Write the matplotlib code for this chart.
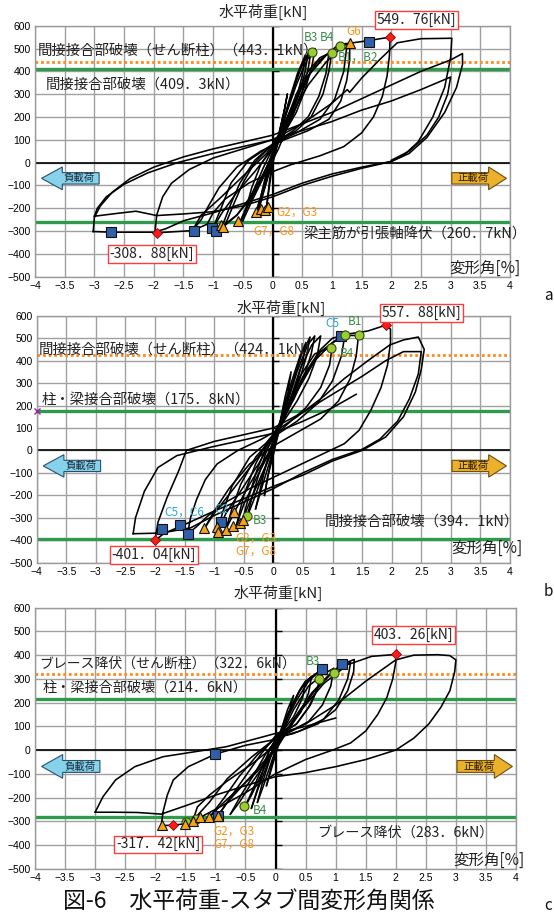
import matplotlib
matplotlib.use("Agg")
import matplotlib.pyplot as plt
from matplotlib.patches import FancyArrow

plt.rcParams['font.family'] = ['Noto Sans CJK JP', 'DejaVu Sans']

# ---------------- data (drift angle [%], horizontal load [kN]) ----------------
# panel a : hysteresis path, split into cycles
a_loops = [
    [(0, 0), (0.1, 110), (0.2, 230), (0.25, 300), (0.2, 230), (0.1, 120), (0.0, 20), (-0.05, -80), (-0.1, -195)],
    [(-0.1, -195), (-0.05, -100), (0.0, -10), (0.1, 100), (0.2, 200), (0.3, 290), (0.42, 390), (0.55, 470),
     (0.5, 380), (0.4, 280), (0.25, 170), (0.1, 90), (0.0, 30), (-0.1, -60), (-0.2, -150), (-0.3, -235)],
    [(-0.3, -235), (-0.2, -170), (-0.1, -80), (0.0, 20), (0.15, 150), (0.3, 280), (0.45, 400), (0.6, 480),
     (0.55, 400), (0.45, 300), (0.3, 200), (0.15, 120), (0.0, 50), (-0.1, -40), (-0.18, -130), (-0.25, -225)],
    [(-0.25, -225), (-0.15, -130), (-0.05, -40), (0.05, 50), (0.2, 190), (0.35, 320), (0.5, 430), (0.65, 490),
     (0.6, 410), (0.5, 310), (0.35, 210), (0.15, 120), (0.0, 60), (-0.15, -20), (-0.3, -110), (-0.45, -200), (-0.55, -262)],
    [(-0.55, -262), (-0.45, -210), (-0.3, -130), (-0.15, -50), (0.0, 40), (0.2, 190), (0.4, 340), (0.58, 450), (0.72, 500),
     (0.66, 420), (0.55, 320), (0.4, 220), (0.2, 130), (0.0, 70), (-0.2, -10), (-0.35, -110), (-0.5, -255)],
    [(-0.5, -255), (-0.35, -170), (-0.2, -90), (0.0, 20), (0.2, 160), (0.4, 300), (0.6, 400), (0.8, 460), (1.0, 485),
     (0.95, 400), (0.85, 300), (0.65, 200), (0.4, 140), (0.0, 80), (-0.3, 10), (-0.55, -90), (-0.7, -180), (-0.85, -280)],
    [(-0.85, -280), (-0.6, -230), (-0.4, -160), (-0.2, -70), (0.0, 30), (0.25, 190), (0.5, 340), (0.75, 440), (0.95, 480),
     (0.9, 390), (0.78, 290), (0.6, 200), (0.35, 140), (0.0, 80), (-0.3, 0), (-0.5, -90), (-0.65, -180), (-0.8, -275)],
    [(-0.8, -275), (-0.6, -230), (-0.35, -150), (-0.1, -40), (0.1, 60), (0.35, 220), (0.65, 400), (0.9, 470), (1.12, 519), (1.3, 523),
     (1.3, 450), (1.25, 360), (1.15, 270), (0.95, 190), (0.6, 140), (0.2, 100), (-0.2, 50), (-0.6, -20), (-0.9, -110),
     (-1.1, -200), (-1.2, -250), (-1.35, -298)],
    [(-1.35, -298), (-1.2, -230), (-0.9, -160), (-0.5, -60), (-0.1, 40), (0.3, 200), (0.6, 340), (0.9, 440), (1.1, 490), (1.25, 505),
     (1.2, 400), (1.05, 280), (0.8, 190), (0.4, 130), (0.0, 80), (-0.4, 10), (-0.7, -90), (-0.85, -190), (-1.0, -285)],
    [(-1.0, -285), (-0.85, -220), (-0.6, -130), (-0.3, -40), (0.0, 60), (0.3, 230), (0.6, 380), (0.9, 470), (1.15, 510),
     (1.35, 525), (1.6, 534), (1.98, 550), (1.97, 470), (1.93, 380), (1.85, 290), (1.7, 200), (1.5, 130), (1.2, 70),
     (0.8, 30), (0.3, -10), (0.0, -40), (-0.4, -90), (-0.8, -160), (-1.0, -220), (-1.1, -270), (-1.35, -298), (-1.98, -308)],
    [(-1.98, -308), (-1.95, -230), (-1.85, -150), (-1.7, -90), (-1.4, -30), (-1.0, 20), (-0.5, 60), (0.0, 100), (0.5, 170),
     (1.0, 260), (1.26, 320), (1.3, 308), (1.5, 370), (1.8, 450), (2.1, 525), (2.5, 543), (3.02, 545),
     (3.0, 460), (2.9, 330), (2.7, 200), (2.45, 90), (2.2, 30), (2.0, 5), (1.5, -20), (1.0, -50), (0.5, -90), (0.0, -140),
     (-0.5, -180), (-1.0, -220), (-1.5, -255), (-1.8, -290), (-2.0, -305), (-2.72, -305), (-3.02, -302)],
    [(-3.02, -302), (-3.0, -240), (-2.9, -190), (-2.7, -130), (-2.4, -70), (-2.0, -20), (-1.5, 25), (-1.0, 60), (-0.5, 90),
     (0.0, 120), (0.5, 170), (1.0, 220), (1.5, 280), (2.0, 340), (2.5, 400), (3.0, 450), (3.2, 478),
     (3.2, 430), (3.1, 330), (2.9, 220), (2.6, 110), (2.3, 40), (2.0, 5), (1.5, -25), (1.0, -60), (0.5, -100), (0.0, -150),
     (-0.5, -190), (-1.0, -215), (-1.5, -225), (-1.95, -232), (-2.3, -213), (-2.6, -222), (-3.0, -235)],
    [(-3.0, -235), (-2.95, -200), (-2.8, -150), (-2.5, -95), (-2.1, -45), (-1.6, 0), (-1.0, 40), (-0.5, 70), (0.0, 100),
     (0.5, 140), (1.0, 180), (1.5, 230), (2.0, 270), (2.5, 320), (3.0, 375),
     (2.95, 300), (2.8, 200), (2.6, 120), (2.3, 50), (2.0, 10)],
]

# panel b
b_loops = [
    [(0, 0), (0.1, 110), (0.2, 240), (0.3, 350), (0.25, 260), (0.12, 130), (0.0, 10), (-0.08, -100), (-0.15, -200)],
    [(-0.15, -200), (-0.1, -120), (0.0, -20), (0.15, 150), (0.3, 300), (0.45, 420), (0.55, 480), (0.5, 400), (0.38, 290),
     (0.2, 170), (0.0, 50), (-0.12, -60), (-0.22, -170), (-0.3, -260)],
    [(-0.3, -260), (-0.2, -170), (-0.05, -40), (0.1, 100), (0.3, 280), (0.48, 430), (0.62, 505), (0.56, 420), (0.45, 320),
     (0.28, 210), (0.08, 110), (-0.1, 10), (-0.25, -110), (-0.36, -210), (-0.45, -300)],
    [(-0.45, -300), (-0.33, -220), (-0.18, -110), (0.0, 20), (0.2, 180), (0.4, 350), (0.58, 470), (0.7, 510), (0.64, 430),
     (0.52, 330), (0.35, 230), (0.12, 120), (-0.1, 30), (-0.28, -90), (-0.42, -210), (-0.52, -310)],
    [(-0.52, -310), (-0.4, -230), (-0.2, -110), (0.0, 10), (0.25, 200), (0.45, 360), (0.65, 470), (0.8, 510), (0.74, 420),
     (0.6, 320), (0.4, 220), (0.15, 120), (-0.1, 40), (-0.3, -60), (-0.5, -200), (-0.62, -330)],
    [(-0.62, -330), (-0.5, -240), (-0.3, -130), (-0.05, 0), (0.2, 170), (0.45, 330), (0.7, 430), (0.97, 458), (1.0, 470),
     (0.95, 380), (0.8, 280), (0.55, 190), (0.25, 120), (0.0, 60), (-0.3, -30), (-0.55, -150), (-0.7, -260), (-0.8, -350)],
    [(-0.8, -350), (-0.65, -270), (-0.4, -150), (-0.1, -20), (0.2, 150), (0.5, 330), (0.8, 450), (1.0, 500), (1.14, 510),
     (1.21, 515), (1.15, 420), (1.0, 310), (0.75, 210), (0.4, 130), (0.0, 60), (-0.4, -30), (-0.7, -160), (-0.85, -270), (-0.95, -360)],
    [(-0.95, -360), (-0.8, -280), (-0.55, -180), (-0.25, -60), (0.1, 100), (0.45, 300), (0.8, 440), (1.1, 500), (1.3, 512),
     (1.44, 512), (1.4, 420), (1.3, 320), (1.1, 220), (0.8, 140), (0.4, 80), (0.0, 20), (-0.4, -60), (-0.75, -170),
     (-1.0, -270), (-1.17, -350)],
    [(-1.17, -350), (-1.0, -280), (-0.7, -180), (-0.35, -60), (0.0, 60), (0.35, 240), (0.7, 400), (1.0, 480), (1.3, 520),
     (1.6, 532), (1.9, 558), (1.98, 540), (1.98, 480), (1.93, 380), (1.82, 280), (1.65, 180), (1.45, 90), (1.2, 30),
     (0.8, -20), (0.4, -70), (0.0, -120), (-0.4, -170), (-0.8, -230), (-1.1, -290), (-1.3, -340), (-1.45, -372)],
    [(-1.45, -372), (-1.4, -300), (-1.3, -220), (-1.15, -130), (-0.95, -60), (-0.6, 0), (-0.2, 50), (0.0, 80), (0.4, 150),
     (0.8, 230), (1.2, 320), (1.6, 400), (1.97, 470), (2.2, 492), (2.45, 505), (2.55, 450), (2.5, 360), (2.4, 260),
     (2.2, 150), (1.9, 60), (1.5, 0), (1.0, -47), (0.5, -110), (0.0, -160), (-0.5, -215), (-1.0, -270), (-1.5, -330),
     (-1.85, -370), (-2.0, -401)],
    [(-2.0, -401), (-1.95, -320), (-1.8, -212), (-1.6, -91), (-1.47, 0), (-1.0, 40), (-0.5, 70), (0.0, 100), (0.5, 170),
     (1.0, 250), (1.5, 330), (1.9, 400), (2.2, 440), (2.5, 440), (2.45, 340), (2.3, 230), (2.1, 130), (1.8, 50),
     (1.5, 5), (1.0, -40), (0.5, -100), (0.0, -170), (-0.5, -230), (-1.0, -290), (-1.4, -345), (-1.9, -368), (-2.37, -371)],
    [(-2.37, -371), (-2.33, -300), (-2.18, -182), (-1.95, -76), (-1.63, -23), (-1.05, 15), (-0.53, 45), (0.0, 76),
     (0.5, 130), (1.0, 190), (1.4, 250)],
]

# panel c
c_loops = [
    [(0, 0), (0.1, 90), (0.2, 170), (0.3, 230), (0.22, 150), (0.1, 60), (0.0, -20), (-0.08, -90), (-0.15, -150)],
    [(-0.15, -150), (-0.08, -80), (0.0, 0), (0.15, 110), (0.3, 200), (0.42, 260), (0.5, 290), (0.45, 220), (0.3, 140),
     (0.12, 80), (0.0, 30), (-0.12, -60), (-0.22, -140), (-0.3, -220)],
    [(-0.3, -220), (-0.2, -150), (-0.08, -60), (0.05, 40), (0.2, 150), (0.38, 240), (0.5, 290), (0.6, 310), (0.55, 240),
     (0.42, 160), (0.25, 100), (0.05, 70), (-0.1, 0), (-0.2, -80), (-0.32, -180), (-0.4, -245)],
    [(-0.4, -245), (-0.3, -170), (-0.15, -70), (0.0, 30), (0.2, 150), (0.4, 250), (0.6, 310), (0.75, 335), (0.7, 260),
     (0.55, 180), (0.35, 110), (0.1, 70), (-0.1, 0), (-0.25, -90), (-0.4, -180), (-0.52, -245)],
    [(-0.52, -245), (-0.4, -190), (-0.25, -110), (-0.05, 0), (0.15, 110), (0.35, 210), (0.55, 290), (0.78, 345),
     (0.72, 270), (0.58, 190), (0.35, 110), (0.1, 70), (-0.15, -10), (-0.35, -100), (-0.55, -180), (-0.75, -270)],
    [(-0.75, -270), (-0.6, -220), (-0.4, -140), (-0.15, -50), (0.05, 40), (0.3, 170), (0.55, 270), (0.8, 320), (0.97, 345),
     (0.92, 270), (0.78, 190), (0.55, 120), (0.25, 80), (0.0, 60), (-0.25, -20), (-0.5, -110), (-0.75, -200), (-0.96, -278)],
    [(-0.96, -278), (-0.8, -220), (-0.55, -150), (-0.3, -80), (0.0, 10), (0.3, 130), (0.6, 240), (0.9, 320), (1.1, 361),
     (1.31, 382), (1.3, 330), (1.2, 250), (1.0, 170), (0.7, 110), (0.3, 70), (0.0, 50), (-0.3, -20), (-0.6, -110),
     (-0.85, -200), (-1.1, -284)],
    [(-1.1, -284), (-0.9, -230), (-0.6, -160), (-0.3, -90), (0.0, 0), (0.3, 120), (0.65, 250), (1.0, 340), (1.25, 370),
     (1.2, 300), (1.05, 210), (0.8, 130), (0.4, 80), (0.0, 50), (-0.4, -30), (-0.8, -120), (-1.1, -220), (-1.37, -295)],
    [(-1.37, -295), (-1.3, -240), (-1.1, -190), (-0.8, -130), (-0.4, -60), (0.0, 20), (0.4, 160), (0.8, 280), (1.2, 360),
     (1.6, 395), (2.0, 403), (2.0, 370), (1.95, 300), (1.85, 220), (1.7, 150), (1.5, 80), (1.25, 30), (0.95, 0),
     (0.5, -40), (0.0, -100), (-0.5, -180), (-1.0, -250), (-1.3, -290), (-1.5, -310), (-1.7, -317), (-1.9, -318)],
    [(-1.9, -318), (-1.87, -260), (-1.8, -190), (-1.7, -126), (-1.45, -70), (-1.0, -17), (-0.5, 20), (0.0, 45), (0.5, 110),
     (1.0, 190), (1.5, 290), (2.0, 380), (2.3, 400), (2.7, 402), (2.9, 398), (3.0, 380), (2.98, 330), (2.9, 250),
     (2.75, 180), (2.55, 110), (2.3, 50), (2.0, 0), (1.5, -40), (1.0, -70), (0.5, -95), (0.0, -112), (-0.5, -150),
     (-1.0, -190), (-1.5, -235), (-1.9, -270), (-2.3, -263), (-2.7, -262), (-3.0, -262)],
    [(-3.0, -262), (-2.87, -197), (-2.66, -126), (-2.34, -70), (-1.87, -28), (-1.34, -7), (-0.82, 14), (0.0, 70),
     (0.5, 100), (1.0, 135)],
]

# event markers
a_squares = [(1.62, 530), (-2.72, -303), (-1.32, -298), (-1.02, -288), (-0.95, -298)]
a_circles = [(0.67, 483), (1.0, 482), (1.13, 510)]
a_triangles = [(1.31, 522), (-0.58, -258), (-0.86, -272), (-0.83, -283), (-0.28, -217), (-0.2, -205), (-0.13, -208), (-0.07, -196)]
a_peaks = [(1.98, 549.76), (-1.95, -308.88)]

b_squares = [(1.14, 510), (-1.89, -350), (-1.58, -334), (-1.45, -372), (-0.88, -320)]
b_circles = [(1.21, 515), (1.44, 512), (0.97, 458), (-0.45, -294)]
b_triangles = [(-1.17, -346), (-0.96, -341), (-0.93, -365), (-0.8, -356), (-0.68, -338), (-0.66, -276), (-0.57, -323), (-0.52, -309)]
b_peaks = [(1.9, 557.88), (-2.0, -401.04)]

c_squares = [(0.78, 340), (1.1, 361), (-1.0, -17), (-0.96, -278)]
c_circles = [(0.72, 298), (0.97, 326), (-0.52, -236), (-1.49, -304), (-1.33, -292)]
c_triangles = [(-1.88, -316), (-1.51, -312), (-1.37, -297), (-1.26, -284), (-1.11, -284), (-0.96, -278)]
c_peaks = [(2.0, 403.26), (-1.7, -317.42)]

# reference load levels
a_orange = 443.1
a_green = [409.3, -260.7]
b_orange = 424.1
b_green = [175.8, -394.1]
c_orange = 322.6
c_green = [214.6, -283.6]

x_ticks = [-4, -3.5, -3, -2.5, -2, -1.5, -1, -0.5, 0, 0.5, 1, 1.5, 2, 2.5, 3, 3.5, 4]
y_ticks = [600, 500, 400, 300, 200, 100, 0, -100, -200, -300, -400, -500]

# texts: (x, y, string, size)
a_texts = [(-3.95, 493, '間接接合部破壊（せん断柱）（443．1kN）', 10.4),
           (-3.82, 340, '間接接合部破壊（409．3kN）', 10.4),
           (0.53, -317, '梁主筋が引張軸降伏（260．7kN）', 10.4)]
b_texts = [(-3.97, 451, '間接接合部破壊（せん断柱）（424．1kN）', 10.4),
           (-3.92, 225, '柱・梁接合部破壊（175．8kN）', 10.4),
           (0.87, -319, '間接接合部破壊（394．1kN）', 10.4)]
c_texts = [(-3.93, 365, 'ブレース降伏（せん断柱）（322．6kN）', 10.0),
           (-3.88, 262, '柱・梁接合部破壊（214．6kN）', 10.2),
           (0.7, -347, 'ブレース降伏（283．6kN）', 10.2)]

# marker labels: (x, y, string, color)
GREEN_T = '#3c8a4c'
ORANGE_T = '#f7941d'
CYAN_T = '#29a8d8'
a_tags = [(0.52, 549, 'B3', GREEN_T), (0.8, 549, 'B4', GREEN_T), (1.25, 574, 'G6', ORANGE_T),
          (1.1, 461, 'B1，B2', GREEN_T), (0.06, -215, 'G2，G3', ORANGE_T), (-0.33, -302, 'G7，G8', ORANGE_T)]
b_tags = [(0.88, 567, 'C5', CYAN_T), (1.25, 574, 'B1', GREEN_T), (1.12, 433, 'B4', GREEN_T),
          (-1.85, -276, 'C5，C6', CYAN_T), (-1.0, -264, 'C2', CYAN_T), (-0.34, -312, 'B3', GREEN_T),
          (-0.65, -390, 'G2，G3', ORANGE_T), (-0.65, -450, 'G7，G8', ORANGE_T)]
c_tags = [(0.5, 372, 'B3', GREEN_T), (-0.38, -253, 'B4', GREEN_T),
          (-1.04, -340, 'G2，G3', ORANGE_T), (-1.04, -396, 'G7，G8', ORANGE_T)]

# boxed peak values: (x, y, string)
a_boxes = [(2.42, 625, '549．76[kN]'), (-2.03, -400, '-308．88[kN]')]
b_boxes = [(2.5, 612, '557．88[kN]'), (-2.02, -466, '-401．04[kN]')]
c_boxes = [(2.3, 484, '403．26[kN]'), (-1.95, -397, '-317．42[kN]')]


def draw_panel(ax, loops, squares, circles, triangles, peaks, orange, greens, texts, tags, boxes,
               title_xy, xlab_xy):
    ax.set_xlim(-4, 4)
    ax.set_ylim(-500, 600)
    ax.set_xticks(x_ticks)
    ax.set_xticklabels([('%g' % t).replace('-', '\u2212') for t in x_ticks])
    ax.set_yticks(y_ticks)
    ax.set_yticklabels([('%g' % t).replace('-', '\u2212') for t in y_ticks])
    ax.tick_params(length=0, labelsize=7.5, pad=3)
    for lab in ax.get_xticklabels() + ax.get_yticklabels():
        lab.set_family('Liberation Sans')
    ax.grid(True, color='#a0a0a0', lw=1.0)
    for sp in ax.spines.values():
        sp.set_color('#9a9a9a')
        sp.set_linewidth(1.0)
    ax.axhline(0, color='black', lw=1.2, zorder=2)
    ax.axvline(0, color='black', lw=1.6, zorder=2)
    ax.plot([0] * len(y_ticks), y_ticks, ls='', marker=1, ms=4, color='black', zorder=2)

    ax.axhline(orange, color='#ff8c1a', lw=2.0, ls=(0, (1, 1)), zorder=2)
    for g in greens:
        ax.axhline(g, color='#2e9b4c', lw=2.4, zorder=2)

    for lp in loops:
        xs = [p[0] for p in lp]
        ys = [p[1] for p in lp]
        ax.plot(xs, ys, color='black', lw=1.15, zorder=3)

    ax.plot([p[0] for p in squares], [p[1] for p in squares], ls='', marker='s', ms=7,
            mfc='#2f5fa8', mec='#111111', mew=0.8, zorder=5)
    ax.plot([p[0] for p in circles], [p[1] for p in circles], ls='', marker='o', ms=6.5,
            mfc='#9bcc2f', mec='#2f4a10', mew=0.8, zorder=5)
    ax.plot([p[0] for p in triangles], [p[1] for p in triangles], ls='', marker='^', ms=6.5,
            mfc='#f5a318', mec='#111111', mew=0.8, zorder=5)
    ax.plot([p[0] for p in peaks], [p[1] for p in peaks], ls='', marker='D', ms=5,
            mfc='#ff1a1a', mec='#7a1010', mew=0.6, zorder=6)

    for x, y, s, fs in texts:
        ax.text(x, y, s, fontsize=fs, ha='left', va='center', color='#222222', zorder=7)
    for x, y, s, c in tags:
        ax.text(x, y, s, fontsize=8.5, ha='left', va='center', color=c, zorder=7)
    for x, y, s in boxes:
        ax.text(x, y, s, fontsize=10, ha='center', va='center', color='#222222', zorder=8,
                bbox=dict(boxstyle='square,pad=0.12', fc='white', ec='#ff3b3b', lw=1.0))

    ax.add_patch(FancyArrow(-2.92, -69, -0.97, 0, width=50, head_width=100, head_length=0.35,
                            length_includes_head=True, fc='#86d2ea', ec='#2b4f6e', lw=0.8, zorder=6))
    ax.text(-3.25, -69, '負載荷', fontsize=7.5, ha='center', va='center', color='#1a2a3a', zorder=7)
    ax.add_patch(FancyArrow(3.02, -69, 0.92, 0, width=50, head_width=100, head_length=0.3,
                            length_includes_head=True, fc='#ebb02c', ec='#6e4f10', lw=0.8, zorder=6))
    ax.text(3.38, -69, '正載荷', fontsize=7.5, ha='center', va='center', color='#2a1a00', zorder=7)

    ax.text(title_xy[0], title_xy[1], '水平荷重[kN]', fontsize=10.8, ha='center', va='center',
            color='#222222', clip_on=False)
    ax.text(xlab_xy[0], xlab_xy[1], '変形角[%]', fontsize=11.2, ha='left', va='center',
            color='#222222', clip_on=False)


fig = plt.figure(figsize=(5.54, 9.14), dpi=100)
W, H = 554.0, 914.0

ax1 = fig.add_axes([35 / W, 1 - 276.7 / H, 475 / W, 251 / H])
ax2 = fig.add_axes([36.7 / W, 1 - 562.7 / H, 473.3 / W, 247 / H])
ax3 = fig.add_axes([35 / W, 1 - 868.7 / H, 481 / W, 261 / H])

draw_panel(ax1, a_loops, a_squares, a_circles, a_triangles, a_peaks, a_orange, a_green, a_texts, a_tags,
           a_boxes, (-0.16, 661), (2.98, -463))
draw_panel(ax2, b_loops, b_squares, b_circles, b_triangles, b_peaks, b_orange, b_green, b_texts, b_tags,
           b_boxes, (0.14, 634), (3.0, -438))
ax2.plot([-4], [175.8], ls='', marker='x', ms=4, color='#a020a0', clip_on=False, zorder=8)
draw_panel(ax3, c_loops, c_squares, c_circles, c_triangles, c_peaks, c_orange, c_green, c_texts, c_tags,
           c_boxes, (0.04, 662), (2.95, -463))

fig.text(63 / W, 1 - 901 / H, '図-6　水平荷重-スタブ間変形角関係', fontsize=16.5, ha='left', va='center',
         color='#111111')
fig.text(544 / W, 1 - 296 / H, 'a', fontsize=11, ha='left', va='center', color='#111111')
fig.text(544 / W, 1 - 592 / H, 'b', fontsize=11, ha='left', va='center', color='#111111')
fig.text(544 / W, 1 - 905 / H, 'c', fontsize=11, ha='left', va='center', color='#111111')

fig.savefig('out.png', dpi=100)
